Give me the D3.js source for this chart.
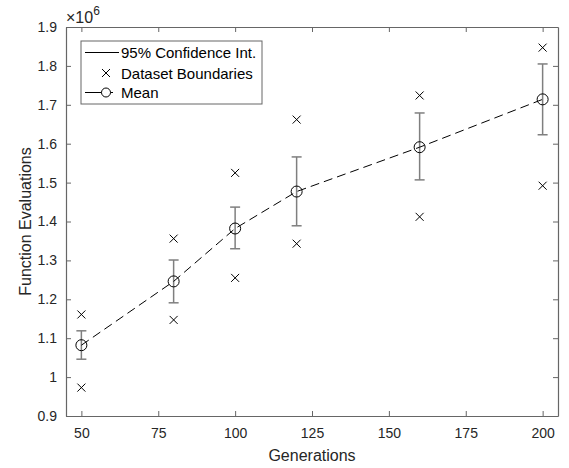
<!DOCTYPE html>
<html>
<head>
<meta charset="utf-8">
<script src="https://cdn.jsdelivr.net/npm/d3@7"></script>
<style>
  body { margin: 0; background: #fff; }
  text { font-family: "Liberation Sans", Arial, sans-serif; }
</style>
</head>
<body>
<div id="chart"></div>
<script>
// data (values in millions)
const generations = [50, 80, 100, 120, 160, 200]
const meanVals    = [1.082, 1.246, 1.382, 1.477, 1.591, 1.714]
const ciUpper     = [1.119, 1.301, 1.437, 1.566, 1.679, 1.805]
const ciLower     = [1.046, 1.191, 1.330, 1.389, 1.507, 1.623]
const boundUpper  = [1.161, 1.356, 1.525, 1.662, 1.724, 1.847]
const boundLower  = [0.973, 1.147, 1.255, 1.343, 1.412, 1.492]
const xTicks = [50, 75, 100, 125, 150, 175, 200]
const yTicks = [0.9, 1, 1.1, 1.2, 1.3, 1.4, 1.5, 1.6, 1.7, 1.8, 1.9]

const W = 569, H = 468
const margin = { top: 27, right: 11, bottom: 52, left: 66 }
const width  = W - margin.left - margin.right
const height = H - margin.top - margin.bottom
const axisColor = '#666'
const textColor = '#262626'

const x = d3.scaleLinear().domain([45, 205]).range([0, width])
const y = d3.scaleLinear().domain([0.9, 1.9]).range([height, 0])

const svg = d3.select('#chart').append('svg')
    .attr('width', W).attr('height', H)
const g = svg.append('g')
    .attr('transform', `translate(${margin.left},${margin.top})`)

const data = generations.map((gen, i) => ({
    gen, mean: meanVals[i], hi: ciUpper[i], lo: ciLower[i],
    bHi: boundUpper[i], bLo: boundLower[i]
}))

// axes with inward ticks on all four sides
g.append('g')
    .attr('transform', `translate(0,${height})`)
    .call(d3.axisBottom(x).tickValues(xTicks).tickSizeInner(-5).tickSizeOuter(0).tickPadding(12))
g.append('g')
    .call(d3.axisTop(x).tickValues(xTicks).tickSizeInner(-5).tickSizeOuter(0).tickFormat(''))
g.append('g')
    .call(d3.axisLeft(y).tickValues(yTicks).tickSizeInner(-5).tickSizeOuter(0).tickPadding(9)
        .tickFormat(d3.format('')))
g.append('g')
    .attr('transform', `translate(${width},0)`)
    .call(d3.axisRight(y).tickValues(yTicks).tickSizeInner(-5).tickSizeOuter(0).tickFormat(''))

g.selectAll('.domain').attr('stroke', axisColor).attr('stroke-width', 1.2)
g.selectAll('.tick line').attr('stroke', axisColor)
g.selectAll('.tick text')
    .style('font-size', '14px')
    .attr('fill', textColor)

// exponent label
const expo = svg.append('text')
    .attr('x', 66).attr('y', 23)
    .style('font-size', '16px').attr('fill', textColor)
expo.append('tspan').text('\u00d710')
expo.append('tspan').attr('dy', -8).style('font-size', '12px').text('6')

// axis labels
svg.append('text')
    .attr('x', margin.left + width / 2).attr('y', 461)
    .attr('text-anchor', 'middle')
    .style('font-size', '16px').attr('fill', textColor)
    .text('Generations')
svg.append('text')
    .attr('transform', `translate(31,${margin.top + height / 2}) rotate(-90)`)
    .attr('text-anchor', 'middle')
    .style('font-size', '16px').attr('fill', textColor)
    .text('Function Evaluations')

// error bars
const ciColor = '#7f7f7f'
const cap = 5
const eb = g.append('g').attr('stroke', ciColor).attr('stroke-width', 1.5)
eb.selectAll('.stem').data(data).join('line')
    .attr('x1', d => x(d.gen)).attr('x2', d => x(d.gen))
    .attr('y1', d => y(d.hi)).attr('y2', d => y(d.lo))
eb.selectAll('.capHi').data(data).join('line')
    .attr('x1', d => x(d.gen) - cap).attr('x2', d => x(d.gen) + cap)
    .attr('y1', d => y(d.hi)).attr('y2', d => y(d.hi))
eb.selectAll('.capLo').data(data).join('line')
    .attr('x1', d => x(d.gen) - cap).attr('x2', d => x(d.gen) + cap)
    .attr('y1', d => y(d.lo)).attr('y2', d => y(d.lo))

// mean dashed line
g.append('path')
    .datum(data)
    .attr('fill', 'none')
    .attr('stroke', '#000')
    .attr('stroke-width', 1)
    .attr('stroke-dasharray', '9,5')
    .attr('d', d3.line().x(d => x(d.gen)).y(d => y(d.mean)))

g.selectAll('.meanDot').data(data).join('circle')
    .attr('cx', d => x(d.gen)).attr('cy', d => y(d.mean))
    .attr('r', 5.5)
    .attr('fill', 'none').attr('stroke', '#000').attr('stroke-width', 1)

// dataset boundary crosses
const crossPath = s => `M${-s},${-s}L${s},${s}M${-s},${s}L${s},${-s}`
const bounds = data.flatMap(d => [{ gen: d.gen, v: d.bHi }, { gen: d.gen, v: d.bLo }])
g.selectAll('.cross').data(bounds).join('path')
    .attr('transform', d => `translate(${x(d.gen)},${y(d.v)})`)
    .attr('d', crossPath(4))
    .attr('stroke', '#000').attr('stroke-width', 1).attr('fill', 'none')

// legend
const lg = svg.append('g').attr('transform', 'translate(81,41)')
lg.append('rect')
    .attr('width', 181).attr('height', 63)
    .attr('fill', '#fff').attr('stroke', axisColor).attr('stroke-width', 1)
const rowY = [11.5, 32, 51.5]
const labels = ['95% Confidence Int.', 'Dataset Boundaries', 'Mean']
lg.append('line').attr('x1', 4).attr('x2', 38).attr('y1', rowY[0]).attr('y2', rowY[0])
    .attr('stroke', '#000')
lg.append('path').attr('transform', `translate(25,${rowY[1]})`).attr('d', crossPath(4))
    .attr('stroke', '#000').attr('fill', 'none')
lg.append('line').attr('x1', 4).attr('x2', 32).attr('y1', rowY[2]).attr('y2', rowY[2])
    .attr('stroke', '#000')
lg.append('circle').attr('cx', 25).attr('cy', rowY[2]).attr('r', 4.5)
    .attr('fill', '#fff').attr('stroke', '#000')
lg.selectAll('.lt').data(labels).join('text')
    .attr('x', 40).attr('y', (d, i) => rowY[i] + 5.5)
    .style('font-size', '15px').attr('fill', '#000')
    .text(d => d)
</script>
</body>
</html>
